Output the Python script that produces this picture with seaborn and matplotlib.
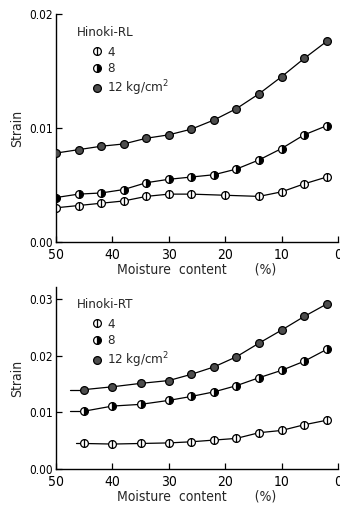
import matplotlib
matplotlib.use("Agg")
import matplotlib.pyplot as plt
from matplotlib.path import Path
from matplotlib.lines import Line2D
import seaborn as sns

# ---- data -------------------------------------------------------------
loads = ["4", "8", "12 kg/cm$^2$"]

# Hinoki-RL
rl_mc_4 = [50, 46, 42, 38, 34, 30, 26, 20, 14, 10, 6, 2]
rl_strain_4 = [0.0030, 0.0032, 0.0034, 0.0036, 0.0040, 0.0042, 0.0042,
               0.0041, 0.0040, 0.0044, 0.0051, 0.0057]
rl_mc = [50, 46, 42, 38, 34, 30, 26, 22, 18, 14, 10, 6, 2]
rl_strain_8 = [0.0039, 0.0042, 0.0043, 0.0046, 0.0052, 0.0055, 0.0057,
               0.0059, 0.0064, 0.0072, 0.0082, 0.0094, 0.0102]
rl_strain_12 = [0.0078, 0.0081, 0.0084, 0.0086, 0.0091, 0.0094, 0.0099,
                0.0107, 0.0117, 0.0130, 0.0145, 0.0161, 0.0176]

# Hinoki-RT
rt_mc = [45, 40, 35, 30, 26, 22, 18, 14, 10, 6, 2]
rt_strain_4 = [0.0045, 0.0044, 0.0045, 0.0046, 0.0048, 0.0051, 0.0054,
               0.0064, 0.0068, 0.0078, 0.0086]
rt_strain_8 = [0.0102, 0.0111, 0.0114, 0.0121, 0.0128, 0.0136, 0.0147,
               0.0161, 0.0174, 0.0190, 0.0211]
rt_strain_12 = [0.0140, 0.0145, 0.0151, 0.0156, 0.0167, 0.0180, 0.0198,
                0.0222, 0.0245, 0.0269, 0.0291]
# moisture content where each RT curve begins
rt_curve_start = [46.5, 47.5, 47.5]

x_ticks = [50, 40, 30, 20, 10, 0]

# ---- style ------------------------------------------------------------
sns.set_style("ticks")
plt.rcParams["font.family"] = ["DejaVu Sans"]
plt.rcParams["font.stretch"] = "condensed"

# circle with a vertical bar through it
_circ = Path.unit_circle()
_bar = Path([[0, -1], [0, 1]], [Path.MOVETO, Path.LINETO])
barred_circle = Path.make_compound_path(_circ, _bar)

MS = 5.6
styles = [
    dict(marker=barred_circle, markerfacecolor="white", markeredgecolor="black"),
    dict(marker="o", fillstyle="right", markerfacecolor="black",
         markerfacecoloralt="white", markeredgecolor="black"),
    dict(marker="o", markerfacecolor="#4d4d4d", markeredgecolor="black"),
]

fig = plt.figure(figsize=(3.4, 5.08), dpi=100)
ax1 = fig.add_axes([56 / 340, 1 - 242 / 508, 282 / 340, 228 / 508])
ax2 = fig.add_axes([56 / 340, 1 - 469 / 508, 282 / 340, 182 / 508])


def draw_series(ax, x, y, st, start=None):
    if start is not None:
        ax.plot([start, x[0]], [y[0], y[0]], color="black", lw=0.9, zorder=2)
    sns.lineplot(x=x, y=y, ax=ax, color="black", lw=0.9, markersize=MS,
                 markeredgewidth=0.9, zorder=3, **st)


draw_series(ax1, rl_mc_4, rl_strain_4, styles[0])
draw_series(ax1, rl_mc, rl_strain_8, styles[1])
draw_series(ax1, rl_mc, rl_strain_12, styles[2])

draw_series(ax2, rt_mc, rt_strain_4, styles[0], rt_curve_start[0])
draw_series(ax2, rt_mc, rt_strain_8, styles[1], rt_curve_start[1])
draw_series(ax2, rt_mc, rt_strain_12, styles[2], rt_curve_start[2])

for ax, ymax, yt, title, ty in (
        (ax1, 0.02, [0.0, 0.01, 0.02], "Hinoki-RL", 33),
        (ax2, 0.0321, [0.0, 0.01, 0.02, 0.03], "Hinoki-RT", 305)):
    ax.set_xlim(50, 0)
    ax.set_ylim(0, ymax)
    ax.set_xticks(x_ticks)
    ax.set_xticklabels([str(v) for v in x_ticks])
    ax.set_yticks(yt)
    ax.set_yticklabels([f"{v:.2f}" for v in yt])
    ax.tick_params(axis="both", direction="in", length=4, width=0.9,
                   colors="black")
    ax.tick_params(axis="x", labelsize=10, pad=4)
    ax.tick_params(axis="y", labelsize=8.5, pad=2)
    for s in ("top", "right"):
        ax.spines[s].set_visible(False)
    for s in ("left", "bottom"):
        ax.spines[s].set_linewidth(1.0)
        ax.spines[s].set_color("black")
    ax.set_ylabel("Strain", fontsize=10, labelpad=4)
    ax.set_xlabel("Moisture  content       (%)", fontsize=10, labelpad=1)
    ax.patch.set_alpha(0)

    fig.text(77 / 340, 1 - ty / 508, title, fontsize=9.5, ha="left",
             va="center")
    handles = [Line2D([], [], linestyle="none", markersize=MS,
                      markeredgewidth=0.9, **st) for st in styles]
    ax.legend(handles, loads, loc="upper left",
              bbox_to_anchor=(91 / 340, 1 - (ty + 13) / 508),
              bbox_transform=fig.transFigure, frameon=False,
              fontsize=9.5, handlelength=0.9, handletextpad=0.35,
              labelspacing=0.25, borderpad=0, borderaxespad=0)

fig.savefig("out.png", dpi=100)
